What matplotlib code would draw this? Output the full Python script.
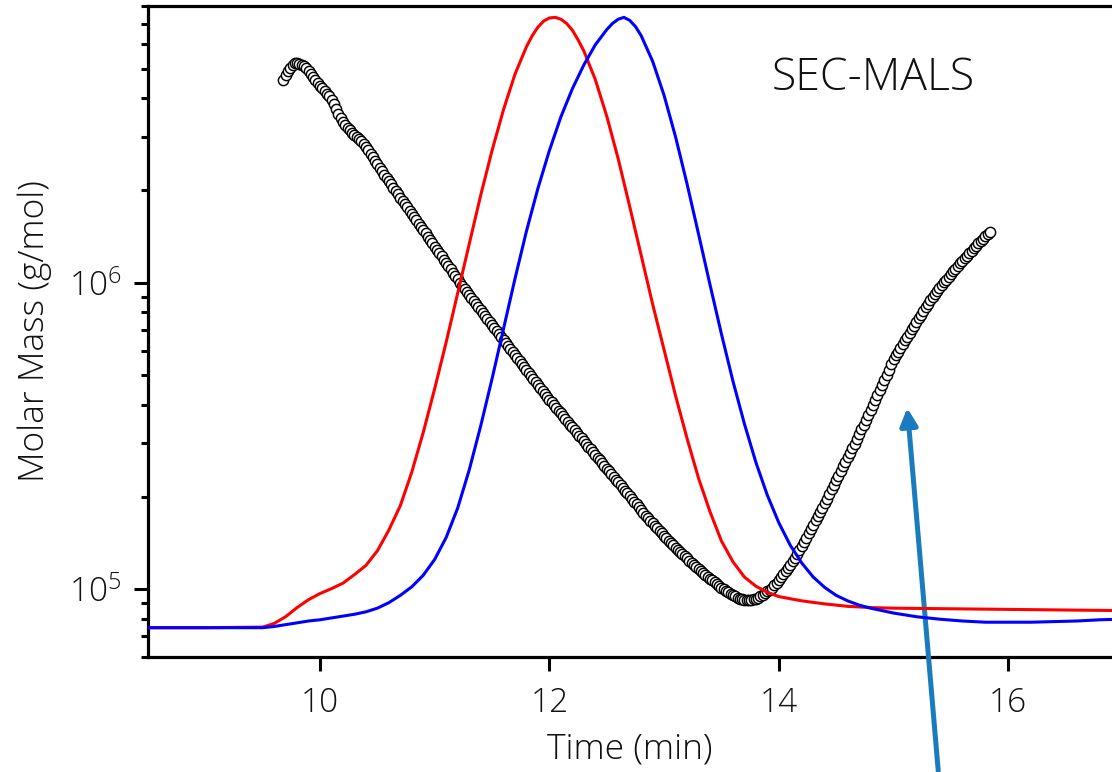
import numpy as np
import matplotlib
matplotlib.use("Agg")
import matplotlib.pyplot as plt

plt.rcParams['font.family'] = ['Open Sans', 'DejaVu Sans']
plt.rcParams['font.weight'] = 'light'
plt.rcParams['axes.labelweight'] = 'light'
plt.rcParams['mathtext.fontset'] = 'custom'
plt.rcParams['mathtext.rm'] = 'Open Sans:light'
plt.rcParams['mathtext.it'] = 'Open Sans:light'

# ---------------- data ----------------
# molar mass (MALS) points: elution time (min) and log10(molar mass, g/mol)
mals_time = [
    9.68, 9.70, 9.72, 9.74, 9.76, 9.78, 9.80, 9.82, 9.84, 9.86, 9.88, 9.90, 9.92, 9.94, 9.96, 9.98,
    10.00, 10.02, 10.04, 10.06, 10.08, 10.10, 10.12, 10.14, 10.16, 10.18, 10.20, 10.22, 10.24, 10.26,
    10.28, 10.30, 10.32, 10.34, 10.36, 10.38, 10.40, 10.42, 10.44, 10.46, 10.48, 10.50, 10.52, 10.54,
    10.56, 10.58, 10.60, 10.62, 10.64, 10.66, 10.68, 10.70, 10.72, 10.74, 10.76, 10.78, 10.80, 10.82,
    10.84, 10.86, 10.88, 10.90, 10.92, 10.94, 10.96, 10.98, 11.00, 11.02, 11.04, 11.06, 11.08, 11.10,
    11.12, 11.14, 11.16, 11.18, 11.20, 11.22, 11.24, 11.26, 11.28, 11.30, 11.32, 11.34, 11.36, 11.38,
    11.40, 11.42, 11.44, 11.46, 11.48, 11.50, 11.52, 11.54, 11.56, 11.58, 11.60, 11.62, 11.64, 11.66,
    11.68, 11.70, 11.72, 11.74, 11.76, 11.78, 11.80, 11.82, 11.84, 11.86, 11.88, 11.90, 11.92, 11.94,
    11.96, 11.98, 12.00, 12.02, 12.04, 12.06, 12.08, 12.10, 12.12, 12.14, 12.16, 12.18, 12.20, 12.22,
    12.24, 12.26, 12.28, 12.30, 12.32, 12.34, 12.36, 12.38, 12.40, 12.42, 12.44, 12.46, 12.48, 12.50,
    12.52, 12.54, 12.56, 12.58, 12.60, 12.62, 12.64, 12.66, 12.68, 12.70, 12.72, 12.74, 12.76, 12.78,
    12.80, 12.82, 12.84, 12.86, 12.88, 12.90, 12.92, 12.94, 12.96, 12.98, 13.00, 13.02, 13.04, 13.06,
    13.08, 13.10, 13.12, 13.14, 13.16, 13.18, 13.20, 13.22, 13.24, 13.26, 13.28, 13.30, 13.32, 13.34,
    13.36, 13.38, 13.40, 13.42, 13.44, 13.46, 13.48, 13.50, 13.52, 13.54, 13.56, 13.58, 13.60, 13.62,
    13.64, 13.66, 13.68, 13.70, 13.72, 13.74, 13.76, 13.78, 13.80, 13.82, 13.84, 13.86, 13.88, 13.90,
    13.92, 13.94, 13.96, 13.98, 14.00, 14.02, 14.04, 14.06, 14.08, 14.10, 14.12, 14.14, 14.16, 14.18,
    14.20, 14.22, 14.24, 14.26, 14.28, 14.30, 14.32, 14.34, 14.36, 14.38, 14.40, 14.42, 14.44, 14.46,
    14.48, 14.50, 14.52, 14.54, 14.56, 14.58, 14.60, 14.62, 14.64, 14.66, 14.68, 14.70, 14.72, 14.74,
    14.76, 14.78, 14.80, 14.82, 14.84, 14.86, 14.88, 14.90, 14.92, 14.94, 14.96, 14.98, 15.00, 15.02,
    15.04, 15.06, 15.08, 15.10, 15.12, 15.14, 15.16, 15.18, 15.20, 15.22, 15.24, 15.26, 15.28, 15.30,
    15.32, 15.34, 15.36, 15.38, 15.40, 15.42, 15.44, 15.46, 15.48, 15.50, 15.52, 15.54, 15.56, 15.58,
    15.60, 15.62, 15.64, 15.66, 15.68, 15.70, 15.72, 15.74, 15.76, 15.78, 15.80, 15.82, 15.84]
mals_log10 = [
    6.661, 6.677, 6.690, 6.702, 6.712, 6.716, 6.717, 6.715, 6.711, 6.706, 6.700, 6.690, 6.680, 6.670, 6.660, 6.651,
    6.643, 6.635, 6.626, 6.617, 6.608, 6.597, 6.584, 6.568, 6.552, 6.538, 6.526, 6.515, 6.506, 6.498,
    6.490, 6.483, 6.476, 6.469, 6.461, 6.452, 6.442, 6.432, 6.421, 6.410, 6.398, 6.386, 6.374, 6.363,
    6.352, 6.342, 6.331, 6.321, 6.310, 6.299, 6.288, 6.278, 6.267, 6.257, 6.246, 6.235, 6.224, 6.214,
    6.203, 6.193, 6.182, 6.172, 6.161, 6.150, 6.139, 6.129, 6.118, 6.107, 6.096, 6.086, 6.075, 6.065,
    6.054, 6.043, 6.032, 6.022, 6.011, 6.000, 5.990, 5.980, 5.970, 5.961, 5.951, 5.941, 5.931, 5.922,
    5.912, 5.902, 5.892, 5.882, 5.872, 5.863, 5.853, 5.843, 5.833, 5.824, 5.814, 5.804, 5.794, 5.785,
    5.775, 5.765, 5.755, 5.745, 5.735, 5.726, 5.716, 5.706, 5.696, 5.687, 5.677, 5.667, 5.657, 5.648,
    5.638, 5.628, 5.618, 5.609, 5.600, 5.591, 5.582, 5.573, 5.564, 5.555, 5.546, 5.537, 5.528, 5.519,
    5.510, 5.501, 5.492, 5.483, 5.474, 5.465, 5.456, 5.447, 5.438, 5.429, 5.420, 5.411, 5.402, 5.393,
    5.384, 5.375, 5.366, 5.357, 5.348, 5.339, 5.330, 5.321, 5.312, 5.303, 5.294, 5.285, 5.276, 5.267,
    5.258, 5.249, 5.240, 5.231, 5.223, 5.214, 5.206, 5.198, 5.190, 5.182, 5.174, 5.166, 5.158, 5.150,
    5.143, 5.135, 5.128, 5.121, 5.114, 5.107, 5.100, 5.093, 5.086, 5.079, 5.073, 5.066, 5.060, 5.053,
    5.047, 5.040, 5.034, 5.028, 5.022, 5.016, 5.010, 5.004, 4.999, 4.994, 4.989, 4.984, 4.980, 4.976,
    4.972, 4.969, 4.966, 4.965, 4.964, 4.964, 4.965, 4.967, 4.969, 4.972, 4.976, 4.981, 4.986, 4.992,
    4.998, 5.005, 5.012, 5.020, 5.029, 5.038, 5.048, 5.058, 5.068, 5.079, 5.090, 5.101, 5.113, 5.126,
    5.140, 5.154, 5.168, 5.182, 5.196, 5.210, 5.224, 5.238, 5.252, 5.266, 5.281, 5.295, 5.310, 5.325,
    5.340, 5.355, 5.370, 5.385, 5.400, 5.415, 5.430, 5.445, 5.460, 5.475, 5.491, 5.506, 5.522, 5.537,
    5.553, 5.569, 5.585, 5.601, 5.617, 5.633, 5.650, 5.666, 5.683, 5.699, 5.716, 5.734, 5.750, 5.763,
    5.775, 5.788, 5.800, 5.812, 5.824, 5.836, 5.848, 5.860, 5.872, 5.884, 5.896, 5.908, 5.919, 5.931,
    5.942, 5.952, 5.962, 5.972, 5.982, 5.992, 6.001, 6.010, 6.019, 6.028, 6.037, 6.046, 6.055, 6.064,
    6.072, 6.080, 6.088, 6.096, 6.104, 6.112, 6.120, 6.128, 6.136, 6.144, 6.151, 6.159, 6.166]

# detector traces (normalised response, 0 = baseline, 1 = peak)
red_time = [8.5, 9.0, 9.5, 9.6, 9.7, 9.8, 9.9, 10.0, 10.1, 10.2, 10.3, 10.4, 10.5, 10.6, 10.7,
            10.8, 10.9, 11.0, 11.1, 11.2, 11.3, 11.4, 11.5, 11.6, 11.7, 11.8, 11.85, 11.9, 11.95,
            12.0, 12.05, 12.1, 12.15, 12.2, 12.25, 12.3, 12.4, 12.5, 12.6, 12.7, 12.8, 12.9, 13.0,
            13.1, 13.2, 13.3, 13.4, 13.5, 13.6, 13.7, 13.8, 13.9, 14.0, 14.2, 14.4, 14.6, 14.8,
            15.0, 15.5, 16.0, 16.5, 17.0]
red_signal = [0.0, 0.0, 0.001, 0.007, 0.018, 0.033, 0.046, 0.056, 0.064, 0.073, 0.087, 0.102,
              0.126, 0.160, 0.200, 0.255, 0.320, 0.392, 0.468, 0.548, 0.628, 0.708, 0.782, 0.849,
              0.907, 0.952, 0.970, 0.984, 0.994, 0.999, 1.000, 0.997, 0.990, 0.979, 0.963, 0.945,
              0.898, 0.838, 0.768, 0.690, 0.610, 0.530, 0.455, 0.380, 0.310, 0.245, 0.190, 0.142,
              0.108, 0.083, 0.068, 0.058, 0.051, 0.044, 0.039, 0.035, 0.033, 0.032, 0.031, 0.030,
              0.029, 0.028]

blue_time = [8.5, 9.0, 9.5, 9.6, 9.7, 9.8, 9.9, 10.0, 10.1, 10.2, 10.3, 10.4, 10.5, 10.6, 10.7,
             10.8, 10.9, 11.0, 11.1, 11.2, 11.3, 11.4, 11.5, 11.6, 11.7, 11.8, 11.9, 12.0, 12.1,
             12.2, 12.3, 12.4, 12.5, 12.55, 12.6, 12.65, 12.7, 12.75, 12.8, 12.9, 13.0, 13.1, 13.2,
             13.3, 13.4, 13.5, 13.6, 13.7, 13.8, 13.9, 14.0, 14.1, 14.2, 14.3, 14.4, 14.5, 14.6,
             14.7, 14.8, 14.9, 15.0, 15.2, 15.4, 15.6, 15.8, 16.0, 16.2, 16.4, 16.6, 16.8, 17.0]
blue_signal = [0.0, 0.0, 0.0, 0.002, 0.005, 0.008, 0.011, 0.013, 0.016, 0.019, 0.022, 0.026,
               0.032, 0.041, 0.053, 0.067, 0.086, 0.112, 0.148, 0.196, 0.258, 0.330, 0.408,
               0.490, 0.572, 0.650, 0.720, 0.782, 0.837, 0.883, 0.922, 0.955, 0.980, 0.990,
               0.997, 1.000, 0.995, 0.985, 0.970, 0.928, 0.872, 0.804, 0.727, 0.645, 0.562,
               0.481, 0.404, 0.334, 0.271, 0.217, 0.172, 0.135, 0.106, 0.083, 0.066, 0.053,
               0.044, 0.037, 0.032, 0.028, 0.024, 0.018, 0.014, 0.011, 0.009, 0.009, 0.009,
               0.010, 0.011, 0.013, 0.014]

x_ticks = [10, 12, 14, 16]
title_text = "SEC-MALS"
arrow_tip = (15.12, 3.9e5)
arrow_tail = (15.39, 2.55e4)

# ---------------- figure ----------------
W, H = 1112, 772
fig = plt.figure(figsize=(W / 100, H / 100), dpi=100)
ax = fig.add_axes([148 / W, 115 / H, (W - 148) / W, 651 / H])

mw = 10 ** np.array(mals_log10)
ax.set_yscale('log')
ax.set_xlim(8.5, 16.905)
ax.set_ylim(6e4, 8e6)

ax.plot(mals_time, mw, linestyle='none', marker='o', markersize=7.4,
        markerfacecolor='white', markeredgecolor='black', markeredgewidth=1.05, zorder=3)

ax.set_xticks(x_ticks)
ax.set_xticklabels([str(v) for v in x_ticks])
ax.xaxis.set_minor_locator(matplotlib.ticker.NullLocator())
ax.yaxis.set_major_locator(matplotlib.ticker.LogLocator(base=10, numticks=10))
ax.yaxis.set_minor_locator(matplotlib.ticker.LogLocator(base=10, subs=np.arange(2, 10), numticks=20))
ax.yaxis.set_minor_formatter(matplotlib.ticker.NullFormatter())
ax.yaxis.set_major_formatter(matplotlib.ticker.FuncFormatter(
    lambda v, p: r'$\mathregular{10^{%d}}$' % int(round(np.log10(v)))))

ax.tick_params(axis='both', which='major', direction='out', length=10, width=2.2,
               labelsize=24, pad=9, color='black', labelcolor='#111111')
ax.tick_params(axis='x', which='major', pad=11)
ax.tick_params(axis='y', which='minor', direction='out', length=5, width=2.2)
for s in ['left', 'bottom', 'top']:
    ax.spines[s].set_linewidth(2.3)
ax.spines['right'].set_visible(False)

ax.set_xlabel('Time (min)', fontsize=25.5, labelpad=9, color='#111111')
ax.set_ylabel('Molar Mass (g/mol)', fontsize=25.5, labelpad=12, color='#111111')

# detector traces on twin linear axis
ax2 = ax.twinx()
ax2.set_ylim(-0.048, 1.0186)
ax2.plot(red_time, red_signal, color='#ff0000', linewidth=2.2, zorder=4)
ax2.plot(blue_time, blue_signal, color='#0000ff', linewidth=2.2, zorder=4)
ax2.set_yticks([])
for s in ax2.spines.values():
    s.set_visible(False)
ax2.set_xlim(8.5, 16.905)

ax.text(0.752, 0.889, title_text, transform=ax.transAxes, fontsize=32,
        ha='center', va='center', color='#111111')

ax.annotate('', xy=arrow_tip, xytext=arrow_tail, xycoords='data', textcoords='data',
            annotation_clip=False,
            arrowprops=dict(arrowstyle='-|>', color='#1a7bbd', lw=3.6,
                            mutation_scale=26, shrinkA=0, shrinkB=0))

fig.savefig('out.png', dpi=100)
